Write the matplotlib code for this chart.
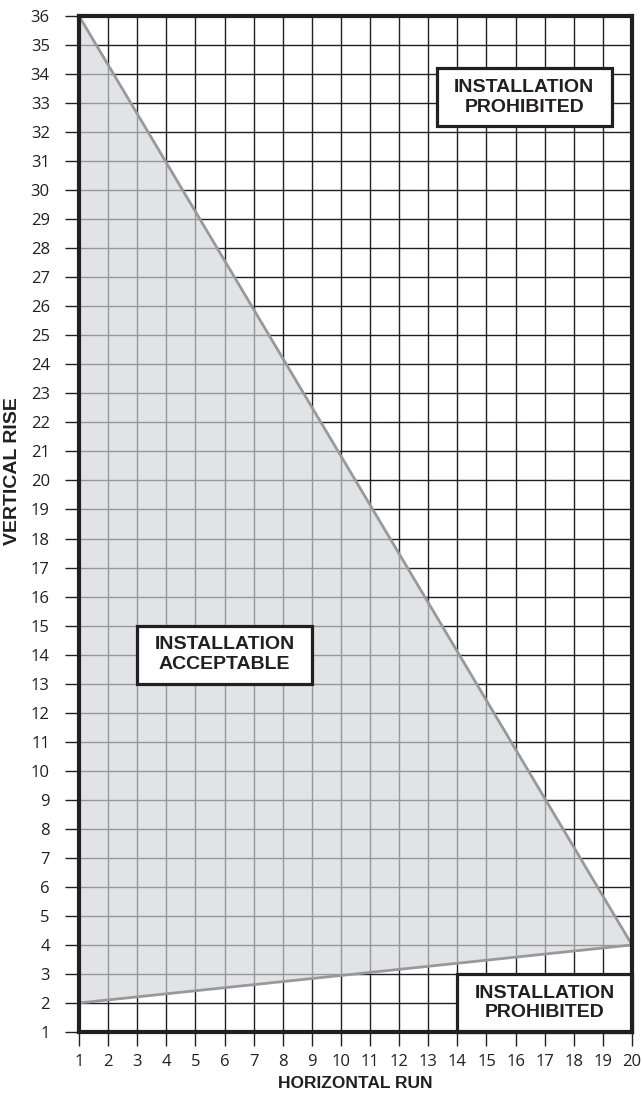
import matplotlib

matplotlib.use("Agg")
import matplotlib.pyplot as plt  # noqa: E402
from matplotlib.patches import Polygon, Rectangle  # noqa: E402

# horizontal run / vertical rise limits of the acceptable zone
run_ticks = list(range(1, 21))
rise_ticks = list(range(1, 37))
zone_run = [1, 20, 1]
zone_rise = [36, 4, 2]

# label boxes: (run0, rise0, width, height, text)
boxes = [
    (13.3, 32.2, 6, 2, "INSTALLATION\nPROHIBITED"),
    (3, 13, 6, 2, "INSTALLATION\nACCEPTABLE"),
    (14, 1, 6, 2, "INSTALLATION\nPROHIBITED"),
]

INK = "#231f20"
TICK_FONT = "Open Sans"
BOLD_FONT = "Liberation Sans"

fig = plt.figure(figsize=(6.42, 10.93), dpi=100)
ax = fig.add_axes([79 / 642, 1 - 1032 / 1093, 553 / 642, 1016 / 1093])
ax.set_xlim(1, 20)
ax.set_ylim(1, 36)

ax.set_xticks(run_ticks)
ax.set_yticks(rise_ticks)
ax.grid(True, color=INK, lw=1.0, zorder=1)
ax.set_axisbelow(True)

zone = Polygon(list(zip(zone_run, zone_rise)), closed=True,
               facecolor=(0.83, 0.835, 0.86), alpha=0.66, edgecolor="none", zorder=2)
ax.add_patch(zone)
ax.plot(zone_run + zone_run[:1], zone_rise + zone_rise[:1], color="#999999", lw=2.0,
        zorder=3, clip_on=False)

for r0, y0, w, h, t in boxes:
    ax.add_patch(Rectangle((r0, y0), w, h, facecolor="white", edgecolor=INK,
                           lw=2.3, zorder=4, clip_on=False))
    ax.text(r0 + w / 2, y0 + h / 2, t, ha="center", va="center", fontsize=14,
            fontweight="bold", family=BOLD_FONT, color=INK, linespacing=1.2, zorder=5)

for s in ax.spines.values():
    s.set_linewidth(3)
    s.set_color(INK)
    s.set_zorder(6)

ax.tick_params(length=10, width=1, color=INK, labelsize=12)
ax.tick_params(axis="y", pad=11)
ax.tick_params(axis="x", pad=6)
for lab in ax.get_xticklabels() + ax.get_yticklabels():
    lab.set_family(TICK_FONT)
    lab.set_color(INK)

ax.set_xlabel("HORIZONTAL RUN", fontsize=12.5, fontweight="bold", family=BOLD_FONT, color=INK)
ax.set_ylabel("VERTICAL RISE", fontsize=14, fontweight="bold", family=BOLD_FONT, color=INK)
ax.xaxis.set_label_coords(0.5, -0.043)
ax.yaxis.set_label_coords(-0.104, 0.552)

fig.savefig("out.png", dpi=100)
